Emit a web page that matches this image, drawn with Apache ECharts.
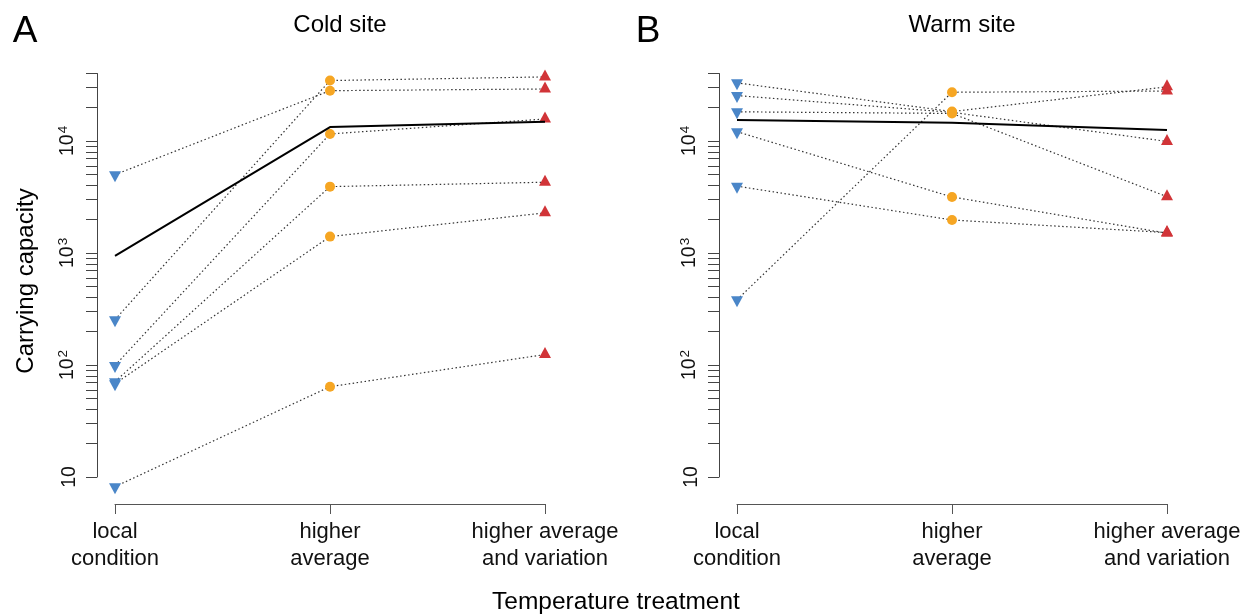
<!DOCTYPE html>
<html>
<head>
<meta charset="utf-8">
<script src="https://cdn.jsdelivr.net/npm/echarts@6/dist/echarts.min.js"></script>
<style>
  html, body { margin: 0; padding: 0; background: #fff; }
  #chart { width: 1240px; height: 614px; }
</style>
</head>
<body>
<div id="chart"></div>
<script>
// treatments on the x axis
const treatments = ['local\ncondition', 'higher\naverage', 'higher average\nand variation'];

// cold site (panel A), one entry per population
const coldLocal = [5000, 254, 99, 71, 68, 8.2];
const coldAvg = [28100, 34600, 11550, 3910, 1400, 64];
const coldVar = [29100, 37300, 15700, 4280, 2280, 124];
const coldMean = [940, 13300, 14800];

// warm site (panel B)
const warmLocal = [382, 33000, 25400, 18200, 12100, 3950];
const warmAvg = [27200, 18300, 18000, 17600, 3160, 1970];
const warmVar = [27900, 30400, 9900, 3180, 1500, 1520];
const warmMean = [15400, 14500, 12500];

// y axis ticks
const yMinorTicks = [10, 20, 30, 40, 50, 60, 70, 80, 90,
  100, 200, 300, 400, 500, 600, 700, 800, 900,
  1000, 2000, 3000, 4000, 5000, 6000, 7000, 8000, 9000,
  10000, 20000, 30000, 40000];
const yLabelTicks = [10, 100, 1000, 10000];

const FONT = '"Liberation Sans", Arial, sans-serif';
const BLUE = '#4a86c8';
const ORANGE = '#f6a623';
const RED = '#d13438';

const myChart = echarts.init(document.getElementById('chart'), null, { renderer: 'canvas' });

const grids = [
  { left: 115, top: 73.5, width: 430, height: 403.5 },
  { left: 737, top: 73.5, width: 430, height: 403.5 },
];

function yAxisFor(i) {
  return {
    gridIndex: i,
    type: 'log',
    logBase: 10,
    min: 10,
    max: 40000,
    offset: 18,
    axisLine: { show: true, lineStyle: { color: '#444', width: 1 } },
    axisTick: { show: true, length: 11, customValues: yMinorTicks, lineStyle: { color: '#444', width: 1 } },
    axisLabel: {
      customValues: yLabelTicks,
      rotate: 90,
      margin: 17,
      color: '#111',
      fontFamily: FONT,
      fontSize: 19,
      formatter: (v) => {
        const e = Math.round(Math.log10(v));
        return e === 1 ? '{b|10}' : '{b|10}{sup|' + e + '}';
      },
      rich: {
        b: { fontSize: 19.5, fontFamily: FONT, color: '#111' },
        sup: { fontSize: 13.5, fontFamily: FONT, color: '#111', verticalAlign: 'bottom', padding: [0, 0, 10, 1] },
      },
    },
    splitLine: { show: false },
  };
}

function xAxisFor(i) {
  return {
    gridIndex: i,
    type: 'category',
    data: treatments,
    boundaryGap: false,
    position: 'bottom',
    offset: 27,
    axisLine: { show: true, lineStyle: { color: '#555', width: 1 } },
    axisTick: { show: true, length: 10, alignWithLabel: true, lineStyle: { color: '#555', width: 1 } },
    axisLabel: { interval: 0, margin: 14, color: '#111', fontFamily: FONT, fontSize: 22, lineHeight: 27 },
    splitLine: { show: false },
  };
}

function panelSeries(i, local, avg, vari, mean) {
  const out = [];
  // dotted lines that join each population
  for (let r = 0; r < local.length; r++) {
    out.push({
      type: 'line',
      xAxisIndex: i,
      yAxisIndex: i,
      data: [local[r], avg[r], vari[r]],
      symbol: 'none',
      clip: false,
      silent: true,
      z: 1,
      lineStyle: { type: [1.5, 2.5], width: 1.2, color: '#333' },
    });
  }
  out.push({
    type: 'scatter', xAxisIndex: i, yAxisIndex: i, clip: false, z: 2,
    data: local.map((v) => [0, v]),
    symbol: 'path://M0 0 L12 0 L6 11 Z',
    symbolSize: [12, 11],
    symbolKeepAspect: false,
    symbolOffset: [0, 2],
    itemStyle: { color: BLUE, opacity: 1 },
  });
  out.push({
    type: 'scatter', xAxisIndex: i, yAxisIndex: i, clip: false, z: 2,
    data: avg.map((v) => [1, v]),
    symbol: 'circle',
    symbolSize: 10,
    itemStyle: { color: ORANGE, opacity: 1 },
  });
  out.push({
    type: 'scatter', xAxisIndex: i, yAxisIndex: i, clip: false, z: 2,
    data: vari.map((v) => [2, v]),
    symbol: 'triangle',
    symbolSize: [12, 11],
    symbolOffset: [0, -2],
    itemStyle: { color: RED, opacity: 1 },
  });
  // mean line
  out.push({
    type: 'line', xAxisIndex: i, yAxisIndex: i, clip: false, z: 3,
    data: mean,
    symbol: 'none',
    silent: true,
    lineStyle: { type: 'solid', width: 2, color: '#000' },
  });
  return out;
}

const textStyle = (txt, x, y, size) => ({
  type: 'text',
  x: x,
  y: y,
  style: { text: txt, font: size + 'px ' + FONT, fill: '#000', textAlign: 'center', textVerticalAlign: 'middle' },
});

const option = {
  animation: false,
  backgroundColor: '#fff',
  grid: grids.map((g) => Object.assign({ outerBoundsMode: 'none', containLabel: false }, g)),
  xAxis: [xAxisFor(0), xAxisFor(1)],
  yAxis: [yAxisFor(0), yAxisFor(1)],
  series: [
    ...panelSeries(0, coldLocal, coldAvg, coldVar, coldMean),
    ...panelSeries(1, warmLocal, warmAvg, warmVar, warmMean),
  ],
  graphic: [
    textStyle('A', 25, 32, 37),
    textStyle('B', 648, 32, 37),
    textStyle('Cold site', 340, 25, 24),
    textStyle('Warm site', 962, 25, 24),
    textStyle('Temperature treatment', 616, 602, 24.5),
    Object.assign(textStyle('Carrying capacity', 26, 281, 24), { rotation: Math.PI / 2 }),
  ],
};

option && myChart.setOption(option);
</script>
</body>
</html>
